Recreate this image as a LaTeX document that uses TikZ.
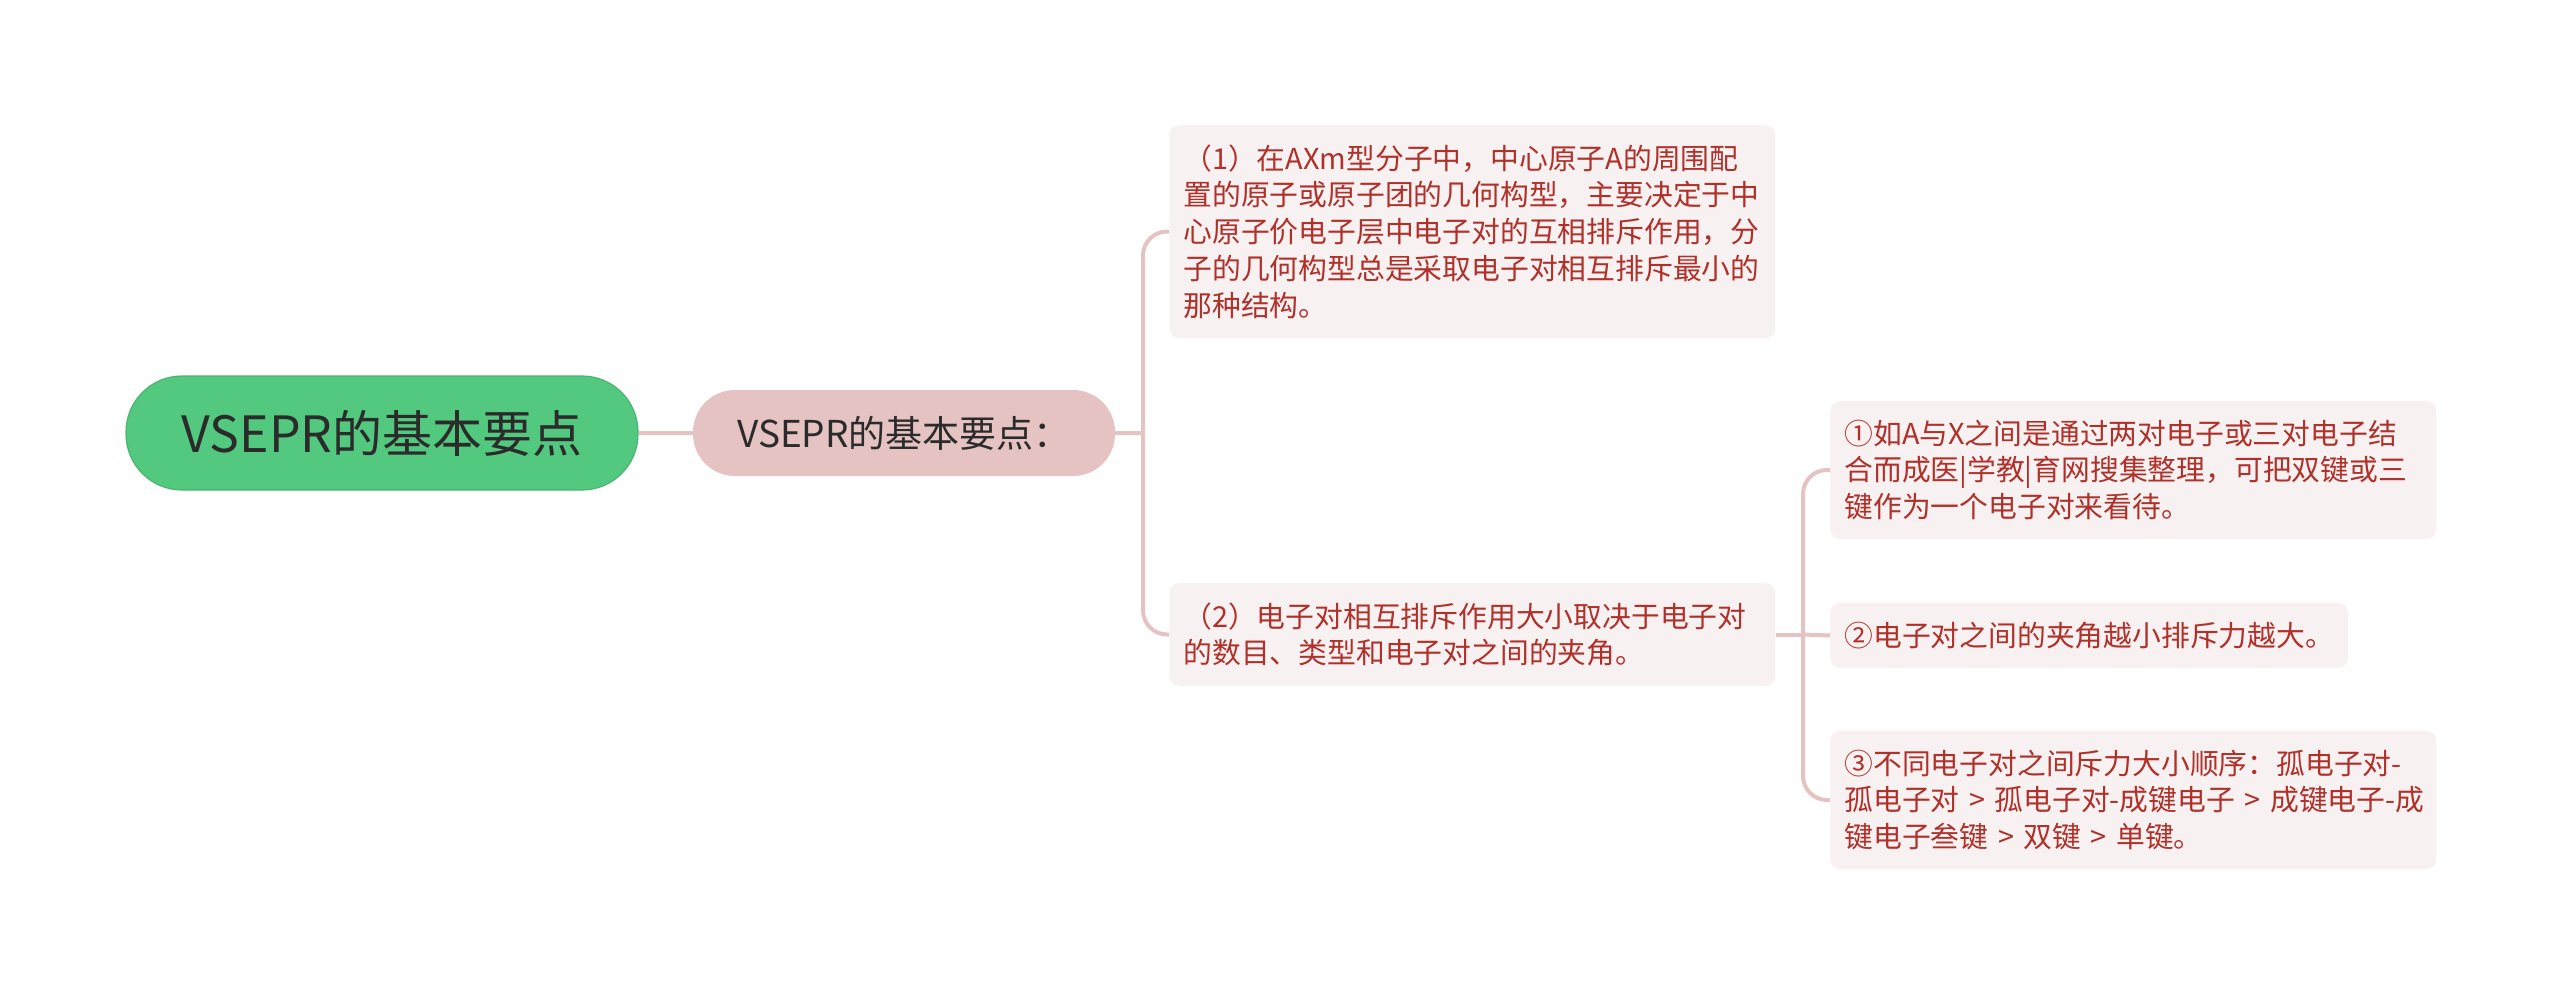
\documentclass[tikz,border=0pt]{standalone}
\usepackage{fontspec}
\setmainfont{Noto Sans CJK SC}
\usetikzlibrary{positioning}
\definecolor{rootgreen}{HTML}{52C97F}
\definecolor{subpink}{HTML}{E6C3C3}
\definecolor{leafbg}{HTML}{F8F1F1}
\definecolor{leafred}{HTML}{B0302A}
\definecolor{darktext}{HTML}{2B2B2B}

\begin{document}
\begin{tikzpicture}[x=0.5pt,y=-0.5pt,
  rootbox/.style={draw=rootgreen!90!black,line width=0.6pt,fill=rootgreen,rounded corners=28pt,
    minimum width=256pt,minimum height=57pt,inner sep=0pt,text=darktext,font=\fontsize{25}{30}\selectfont},
  subbox/.style={fill=subpink,rounded corners=21pt,minimum width=211pt,minimum height=43pt,
    inner sep=0pt,text=darktext,font=\fontsize{18.5}{22}\selectfont},
  leafbox/.style={fill=leafbg,rounded corners=5pt,anchor=west,inner xsep=7pt,inner ysep=0pt,
    text=leafred,font=\fontsize{14.4}{18.4}\selectfont},
  wideleaf/.style={leafbox,text width=289pt,align=left},
  link/.style={draw=subpink,line width=2pt,rounded corners=12pt}]
\useasboundingbox (0,0) rectangle (2560,995);

\node[rootbox] (root) at (382,433) {VSEPR的基本要点};
\node[subbox] (sub) at (904,433) {VSEPR的基本要点：};

\node[wideleaf,minimum height=106.5pt] (p1) at (1169,231.5)
  {（1）在AXm型分子中，中心原子A的周围配\\置的原子或原子团的几何构型，主要决定于中\\心原子价电子层中电子对的互相排斥作用，分\\子的几何构型总是采取电子对相互排斥最小的\\那种结构。};
\node[wideleaf,minimum height=51.5pt] (p2) at (1169,634.5)
  {（2）电子对相互排斥作用大小取决于电子对\\的数目、类型和电子对之间的夹角。};

\node[wideleaf,minimum height=69pt] (q1) at (1830,470)
  {①如A与X之间是通过两对电子或三对电子结\\合而成医|学教|育网搜集整理，可把双键或三\\键作为一个电子对来看待。};
\node[leafbox,minimum height=32.5pt] (q2) at (1830,635.5)
  {②电子对之间的夹角越小排斥力越大。};
\node[wideleaf,minimum height=69pt] (q3) at (1830,800)
  {\mbox{③不同电子对之间斥力大小顺序：孤电子对-}\\\mbox{孤电子对 > 孤电子对-成键电子 > 成键电子-成}\\\mbox{键电子叁键 > 双键 > 单键。}};

\coordinate (j1) at (1143,433);
\coordinate (j2) at (1803,634.5);

\draw[link] (root) -- (sub);
\draw[link] (sub.east) -- (j1);
\draw[link] (j1) |- (p1.west);
\draw[link] (j1) |- (p2.west);
\draw[link] (p2.east) -- (j2);
\draw[link] (j2) |- (q1.west);
\draw[link] (j2) -- (q2.west);
\draw[link] (j2) |- (q3.west);
\end{tikzpicture}
\end{document}
